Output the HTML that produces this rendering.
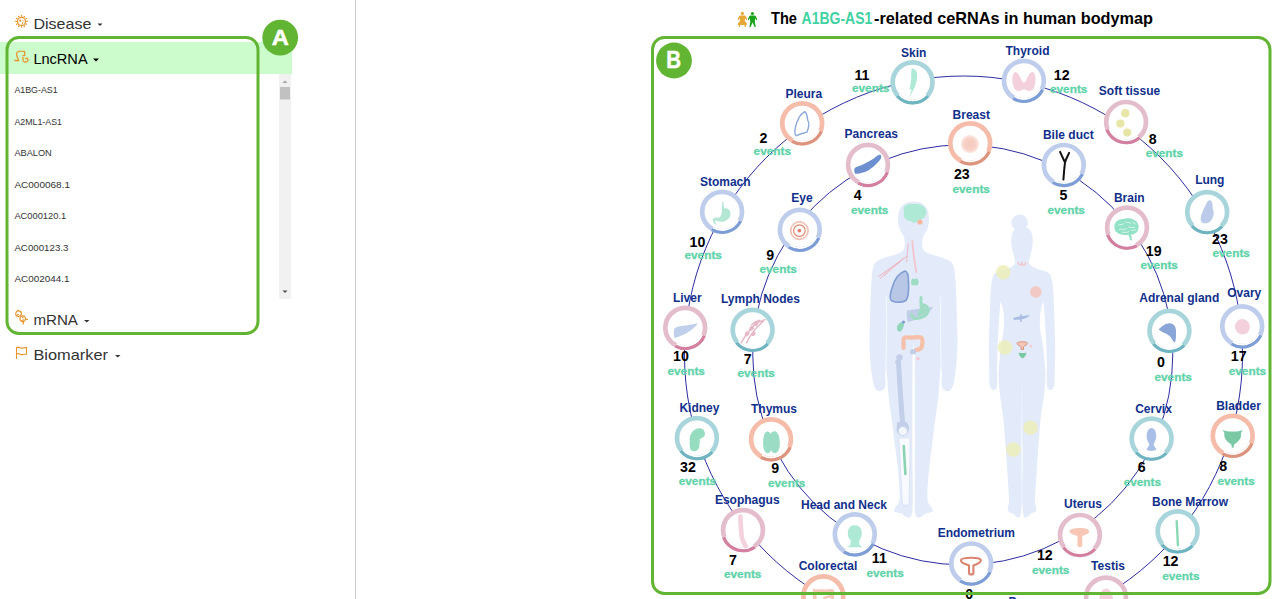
<!DOCTYPE html>
<html><head><meta charset="utf-8"><style>
html,body{margin:0;padding:0;background:#fff;}
body{width:1285px;height:599px;overflow:hidden;position:relative;font-family:"Liberation Sans",sans-serif;}
svg{position:absolute;left:0;top:0;}
.lb{font:bold 12px "Liberation Sans",sans-serif;fill:#10308c;}
.nm{font:bold 14.2px "Liberation Sans",sans-serif;fill:#000;}
.ev{font:bold 11.8px "Liberation Sans",sans-serif;fill:#5fd3a9;stroke:#5fd3a9;stroke-width:0.3;}
.menu{font:15px "Liberation Sans",sans-serif;fill:#333;}
.it{font:9.5px "Liberation Sans",sans-serif;fill:#333;}
</style></head><body>
<svg width="1285" height="599" viewBox="0 0 1285 599">
<defs><radialGradient id="bgrad"><stop offset="0" stop-color="#f6c9bd"/><stop offset="0.6" stop-color="#f7d0c5"/><stop offset="1" stop-color="#fbe6e0"/></radialGradient></defs>

<rect x="0" y="42" width="292" height="32" fill="#ccfbcc"/>
<rect x="279" y="74" width="12" height="225" fill="#f1f1f1"/>
<rect x="280" y="87" width="10" height="12.5" fill="#c1c1c1"/>
<path d="M282.5,83 L285,80.5 L287.5,83Z" fill="#a3a3a3"/>
<path d="M282.5,290.5 L285,293 L287.5,290.5Z" fill="#505050"/>
<text x="33.4" y="28.8" class="menu" textLength="58" lengthAdjust="spacingAndGlyphs">Disease</text>
<path d="M97.5,23.5 L102.5,23.5 L100,26Z" fill="#333"/>
<text x="33.4" y="64" class="menu" style="fill:#000" textLength="54.2" lengthAdjust="spacingAndGlyphs">LncRNA</text>
<path d="M93,58.5 L99,58.5 L96,61.5Z" fill="#000"/>
<text x="33.4" y="325" class="menu" textLength="44.5" lengthAdjust="spacingAndGlyphs">mRNA</text>
<path d="M84,320 L89.5,320 L86.75,322.5Z" fill="#333"/>
<text x="33.4" y="359.7" class="menu" textLength="74.6" lengthAdjust="spacingAndGlyphs">Biomarker</text>
<path d="M115,355 L120.5,355 L117.75,357.5Z" fill="#333"/>
<g fill="none" stroke="#e8942a" stroke-width="1.2"><circle cx="21.5" cy="21.4" r="4"/><path d="M26.10,21.40 L27.80,21.40 M25.48,23.70 L26.96,24.55 M23.80,25.38 L24.65,26.86 M21.50,26.00 L21.50,27.70 M19.20,25.38 L18.35,26.86 M17.52,23.70 L16.04,24.55 M16.90,21.40 L15.20,21.40 M17.52,19.10 L16.04,18.25 M19.20,17.42 L18.35,15.94 M21.50,16.80 L21.50,15.10 M23.80,17.42 L24.65,15.94 M25.48,19.10 L26.96,18.25"/></g><circle cx="20.3" cy="20.7" r="1.1" fill="#e8942a"/><circle cx="22.9" cy="20.9" r="0.6" fill="#e8942a"/><circle cx="22.6" cy="23.1" r="0.8" fill="#e8942a"/>
<path d="M14.4,60.5 L18.6,60.5 C18.4,58.5 16.6,57 16.6,54.5 C16.4,52.5 17.5,51.4 19.5,51.4 L24.4,51.4 C24.9,53 24.9,55 24.6,56.2 M22.4,55.6 L24.4,55.6 M23.2,57 C22.7,59 22.6,61.5 24.8,62 C27,62.3 28.4,60.8 28,59.2 C27.6,57.8 25.8,57.8 25.6,59.4" fill="none" stroke="#e8942a" stroke-width="1.3"/><path d="M17.5,52.5 L18,53.5 M20,51.5 L20.3,52.6 M22,51.5 L22.2,52.6" stroke="#ccfbcc" stroke-width="0.8"/>
<g fill="none" stroke="#e8942a" stroke-width="1.2"><path d="M16,313 C16,311 18,310.5 19.5,311 C21.5,311.5 22,313.5 21,315 C20,316.5 17.5,317 16.2,315.5 C15.6,314.8 15.6,313.8 16,313Z"/><path d="M20.5,317 C21.5,315.5 24,315.5 25,317 C26,318.5 25.5,321 23.5,321.5 C21.5,322 20,320.5 20,319 C20,318.2 20.2,317.5 20.5,317Z"/><path d="M23.5,321.5 L23.2,324.5 M25.3,319.5 L28,319.3 M17.5,311 L18.5,309.8 M21.5,319.8 C22.3,320.6 23.5,320.6 24,319.6"/></g><circle cx="20.4" cy="311.6" r="0.9" fill="#e8942a"/><circle cx="18" cy="314.6" r="0.8" fill="#e8942a"/><circle cx="22.8" cy="317.6" r="0.8" fill="#e8942a"/>
<path d="M16.5,359 L16.5,347 M16.5,347.5 C19,346 21,349 23,348 L26.5,347.5 L26.5,354 L23,354.5 C21,355.5 19,352.5 16.5,354" fill="none" stroke="#e8942a" stroke-width="1.1"/>
<text x="14.4" y="93.0" class="it" textLength="43.3" lengthAdjust="spacingAndGlyphs">A1BG-AS1</text>
<text x="14.4" y="124.5" class="it" textLength="47.6" lengthAdjust="spacingAndGlyphs">A2ML1-AS1</text>
<text x="14.4" y="156.0" class="it" textLength="37.3" lengthAdjust="spacingAndGlyphs">ABALON</text>
<text x="14.4" y="187.5" class="it" textLength="55.6" lengthAdjust="spacingAndGlyphs">AC000068.1</text>
<text x="14.4" y="219.0" class="it" textLength="51.8" lengthAdjust="spacingAndGlyphs">AC000120.1</text>
<text x="14.4" y="250.5" class="it" textLength="54.0" lengthAdjust="spacingAndGlyphs">AC000123.3</text>
<text x="14.4" y="282.0" class="it" textLength="55.1" lengthAdjust="spacingAndGlyphs">AC002044.1</text>
<rect x="355" y="0" width="1" height="599" fill="#c8c8c8"/>
<g><circle cx="742.4" cy="13.4" r="1.6" fill="#e8a838"/><path d="M740,15.6 L744.8,15.6 C746,16 746.6,17.5 747.2,19.8 L746.3,20 L745.2,18.3 L744.6,20.8 C746,22 747,23.5 747,24.8 L745.8,25 L745.8,27 L744.6,27 L744.4,25 L740.2,25 L740,27 L738.8,27 L738.8,25 L737.8,24.8 C737.8,23.3 738.8,22 740.2,20.8 L739.5,18.3 L738.4,20 L737.6,19.8 C738.2,17.5 738.8,16 740,15.6Z" fill="#e8a838"/><circle cx="752.4" cy="13.5" r="1.6" fill="#1aa31a"/><path d="M750.2,15.6 L754.8,15.6 C756,16 756.6,18 757.2,19.8 L756.3,20.2 L755.2,18.2 L754.8,22 L755.8,27 L754.6,27 L752.6,22.5 L750.6,27 L749.4,27 L750.3,22 L749.8,18.2 L748.6,20.3 L747.8,19.8 C748.5,18 749.2,16 750.2,15.6Z" fill="#1aa31a"/></g>
<text x="771" y="23.7" style="font:bold 16.4px 'Liberation Sans',sans-serif;fill:#000" textLength="26" lengthAdjust="spacingAndGlyphs">The</text>
<text x="801.6" y="23.7" style="font:bold 16.4px 'Liberation Sans',sans-serif;fill:#000;fill:#3fd2a2" textLength="70.7" lengthAdjust="spacingAndGlyphs">A1BG-AS1</text>
<text x="874" y="23.7" style="font:bold 16.4px 'Liberation Sans',sans-serif;fill:#000" textLength="279" lengthAdjust="spacingAndGlyphs">-related ceRNAs in human bodymap</text>
<g>
<path d="M913.5,201.5 C912.1,201.8 907.3,202.1 905.0,203.5 C902.7,204.9 900.7,207.2 899.5,210.0 C898.3,212.8 897.9,216.7 898.0,220.0 C898.1,223.3 899.0,227.2 900.0,230.0 C901.0,232.8 903.3,233.8 904.0,237.0 C904.7,240.2 905.2,246.2 904.0,249.0 C902.8,251.8 900.3,252.5 897.0,254.0 C893.7,255.5 887.5,256.7 884.0,258.0 C880.5,259.3 877.9,260.0 876.0,262.0 C874.1,264.0 873.3,265.3 872.5,270.0 C871.7,274.7 871.4,281.7 871.0,290.0 C870.6,298.3 870.2,310.8 870.0,320.0 C869.8,329.2 869.3,337.0 869.5,345.0 C869.7,353.0 870.3,361.5 871.0,368.0 C871.7,374.5 872.6,380.3 873.5,384.0 C874.4,387.7 875.2,388.8 876.5,390.0 C877.8,391.2 879.6,391.5 881.0,391.0 C882.4,390.5 884.2,389.7 885.0,387.0 C885.8,384.3 885.2,377.8 885.5,375.0 C885.8,372.2 885.9,365.8 886.5,370.0 C887.1,374.2 888.0,390.8 889.0,400.0 C890.0,409.2 891.6,418.0 892.5,425.0 C893.4,432.0 893.7,435.3 894.5,442.0 C895.3,448.7 896.7,457.0 897.5,465.0 C898.3,473.0 899.2,483.8 899.5,490.0 C899.8,496.2 899.8,499.0 899.0,502.0 C898.2,505.0 895.8,506.4 895.0,508.0 C894.2,509.6 893.7,510.7 894.5,511.5 C895.3,512.3 897.1,512.8 900.0,513.0 C902.9,513.2 909.9,523.5 912.0,513.0 C914.1,502.5 912.4,476.2 912.5,450.0 C912.6,423.8 912.5,371.7 912.8,356.0 C913.1,340.3 913.9,340.3 914.2,356.0 C914.5,371.7 914.4,423.8 914.5,450.0 C914.6,476.2 912.9,502.5 915.0,513.0 C917.1,523.5 924.1,513.2 927.0,513.0 C929.9,512.8 931.7,512.3 932.5,511.5 C933.3,510.7 932.8,509.6 932.0,508.0 C931.2,506.4 928.8,505.0 928.0,502.0 C927.2,499.0 927.2,496.2 927.5,490.0 C927.8,483.8 928.7,473.0 929.5,465.0 C930.3,457.0 931.7,448.7 932.5,442.0 C933.3,435.3 933.6,432.0 934.5,425.0 C935.4,418.0 937.0,409.2 938.0,400.0 C939.0,390.8 939.9,374.2 940.5,370.0 C941.1,365.8 941.2,372.2 941.5,375.0 C941.8,377.8 941.2,384.3 942.0,387.0 C942.8,389.7 944.6,390.5 946.0,391.0 C947.4,391.5 949.2,391.2 950.5,390.0 C951.8,388.8 952.6,387.7 953.5,384.0 C954.4,380.3 955.3,374.5 956.0,368.0 C956.7,361.5 957.3,353.0 957.5,345.0 C957.7,337.0 957.2,329.2 957.0,320.0 C956.8,310.8 956.4,298.3 956.0,290.0 C955.6,281.7 955.3,274.7 954.5,270.0 C953.7,265.3 952.9,264.0 951.0,262.0 C949.1,260.0 946.5,259.3 943.0,258.0 C939.5,256.7 933.3,255.5 930.0,254.0 C926.7,252.5 924.2,251.8 923.0,249.0 C921.8,246.2 922.3,240.2 923.0,237.0 C923.7,233.8 926.0,232.8 927.0,230.0 C928.0,227.2 928.9,223.3 929.0,220.0 C929.1,216.7 928.7,212.8 927.5,210.0 C926.3,207.2 924.3,204.9 922.0,203.5 C919.7,202.1 914.9,201.8 913.5,201.5 C912.1,201.2 914.9,201.2 913.5,201.5Z" fill="#e3ebfb"/><circle cx="1019.6" cy="222.8" r="8.2" fill="#e3ebfb"/><path d="M1022.0,227.0 C1020.9,227.2 1017.2,227.2 1015.5,228.5 C1013.8,229.8 1012.5,232.4 1011.8,235.0 C1011.1,237.6 1011.2,241.3 1011.3,244.0 C1011.4,246.7 1012.0,248.8 1012.5,251.0 C1013.0,253.2 1013.9,254.8 1014.3,257.0 C1014.6,259.2 1015.6,262.1 1014.6,264.0 C1013.6,265.9 1010.8,267.2 1008.0,268.5 C1005.2,269.8 1000.5,270.2 998.0,271.5 C995.5,272.8 994.2,273.4 993.0,276.5 C991.8,279.6 991.3,283.6 990.8,290.0 C990.3,296.4 990.1,305.8 989.8,315.0 C989.5,324.2 988.9,335.8 988.8,345.0 C988.7,354.2 989.1,363.5 989.2,370.0 C989.3,376.5 989.1,380.8 989.6,384.0 C990.1,387.2 990.9,388.7 992.0,389.5 C993.1,390.3 995.1,390.2 996.0,389.0 C996.9,387.8 997.3,384.8 997.6,382.0 C997.9,379.2 997.4,369.8 997.8,372.0 C998.2,374.2 999.0,387.0 1000.0,395.0 C1001.0,403.0 1002.6,411.7 1003.5,420.0 C1004.4,428.3 1004.8,435.8 1005.5,445.0 C1006.2,454.2 1006.9,465.8 1007.5,475.0 C1008.1,484.2 1008.9,494.7 1009.0,500.0 C1009.1,505.3 1008.2,505.2 1008.0,507.0 C1007.8,508.8 1007.3,510.0 1008.0,511.0 C1008.7,512.0 1009.8,512.7 1012.0,513.0 C1014.2,513.3 1019.4,523.5 1021.0,513.0 C1022.6,502.5 1021.3,473.5 1021.5,450.0 C1021.7,426.5 1021.9,385.0 1022.0,372.0 C1022.1,359.0 1021.9,359.0 1022.0,372.0 C1022.1,385.0 1022.3,426.5 1022.5,450.0 C1022.7,473.5 1021.4,502.5 1023.0,513.0 C1024.6,523.5 1029.8,513.3 1032.0,513.0 C1034.2,512.7 1035.3,512.0 1036.0,511.0 C1036.7,510.0 1036.2,508.8 1036.0,507.0 C1035.8,505.2 1034.9,505.3 1035.0,500.0 C1035.1,494.7 1035.9,484.2 1036.5,475.0 C1037.1,465.8 1037.8,454.2 1038.5,445.0 C1039.2,435.8 1039.6,428.3 1040.5,420.0 C1041.4,411.7 1043.0,403.0 1044.0,395.0 C1045.0,387.0 1045.8,374.2 1046.2,372.0 C1046.6,369.8 1046.1,379.2 1046.4,382.0 C1046.7,384.8 1047.1,387.8 1048.0,389.0 C1048.9,390.2 1050.9,390.3 1052.0,389.5 C1053.1,388.7 1053.9,387.2 1054.4,384.0 C1054.9,380.8 1054.7,376.5 1054.8,370.0 C1054.9,363.5 1055.3,354.2 1055.2,345.0 C1055.1,335.8 1054.5,324.2 1054.2,315.0 C1053.9,305.8 1053.7,296.4 1053.2,290.0 C1052.7,283.6 1052.2,279.6 1051.0,276.5 C1049.8,273.4 1048.5,272.8 1046.0,271.5 C1043.5,270.2 1038.8,269.8 1036.0,268.5 C1033.2,267.2 1030.5,265.9 1029.4,264.0 C1028.4,262.1 1029.4,259.2 1029.7,257.0 C1030.0,254.8 1031.0,253.2 1031.5,251.0 C1032.0,248.8 1032.6,246.7 1032.7,244.0 C1032.8,241.3 1032.9,237.6 1032.2,235.0 C1031.5,232.4 1030.2,229.8 1028.5,228.5 C1026.8,227.2 1023.1,227.2 1022.0,227.0 C1020.9,226.8 1023.1,226.8 1022.0,227.0Z" fill="#e3ebfb"/><path d="M886.2,296 C886.8,320 886.5,350 885.6,378" stroke="#fff" stroke-width="0.9" opacity="0.7" fill="none"/><path d="M940.8,296 C940.2,320 940.5,350 941.4,378" stroke="#fff" stroke-width="0.9" opacity="0.7" fill="none"/><path d="M1000.5,301 C1005.5,313 1005,328 1001.5,342 C999.5,357 998.6,372 997.6,387 C996.8,372 997,357 997.8,342 C998.5,327 999.5,313 1000.5,301Z" fill="#fff"/><path d="M1043.5,301 C1038.5,313 1039,328 1042.5,342 C1044.5,357 1045.4,372 1046.4,387 C1047.2,372 1047,357 1046.2,342 C1045.5,327 1044.5,313 1043.5,301Z" fill="#fff"/><path d="M904,212 C902,206 907,203.5 913,204 C919,203.5 925,205 926,210 C927.5,215 924,219 919,220 C917,223 913,224 911,221 C906,221 902.5,217 904,212Z" fill="#aee9d5"/><circle cx="920" cy="222" r="2.6" fill="#f4b79b"/><path d="M912.3,241 C913,250 914.5,262 916.3,272" stroke="#f3c4cc" stroke-width="1.8" fill="none" stroke-linecap="round"/><path d="M908.3,243.5 C907.5,250 907,256 906.7,262 M907,256 C900,262 890,268 878,277 M904,258 C896,264 887,270 880,279 M900,262 C895,266 889,271 884,276" stroke="#efb6c2" stroke-width="1" fill="none"/><path d="M905,271 C908,271.5 908.5,276 908.5,282 C909,290 908.5,297 906,300.5 C902,302.5 896,302.5 892,301 C889,299.5 890,294 892,288 C894,281 898,273 905,271Z" fill="#b8c7e6" stroke="#7f9dd2" stroke-width="1.6"/><ellipse cx="913.3" cy="282" rx="2.2" ry="3.6" fill="#9fdcc4"/><ellipse cx="916.3" cy="282" rx="2.2" ry="3.6" fill="#9fdcc4"/><path d="M907,310.5 C915,309 925,307.5 933,307 C931,311 926,315 920,318 C915,320 911,321.5 908,322 C906.5,318 906.5,314 907,310.5Z" fill="#bccbe6" opacity="0.9"/><path d="M921,297.5 L921,305 C925,304 928.5,307 928,311 C927.5,315 923,318 917,318.5 C914,318.8 912,317 911.5,314.5" stroke="#9fdcc4" stroke-width="3" fill="none" stroke-linecap="round"/><path d="M921,305 C924,305.5 926.5,308 926,311.5 C925,314.5 921,316 917,316" fill="#9fdcc4"/><path d="M902.5,322 C905,323 904,328 901,331 C898.5,333 896.5,330 897,327 C897.5,324.5 900,322 902.5,322Z" fill="#8fd6bb"/><circle cx="903.5" cy="322" r="1.6" fill="#7f9dd2"/><path d="M903.5,348 L903.5,340 C903.5,337 906,337 909,337.5 C913,338 917,336.5 921,337.5 C923,338.5 922.5,342 922,346 C921.5,348.5 919,349.5 916,350" stroke="#f5bfaa" stroke-width="4.2" fill="none" stroke-linecap="round"/><circle cx="913" cy="352" r="3" fill="#c2cde6"/><circle cx="918" cy="358.8" r="1.8" fill="#f5c8d2"/><path d="M898.5,362 C899.5,380 901,405 903,427" stroke="#c3cfe8" stroke-width="5" fill="none" stroke-linecap="round"/><circle cx="899.5" cy="357.5" r="3.2" fill="#c3cfe8"/><circle cx="898" cy="362" r="2.8" fill="#c3cfe8"/><path d="M897,423 C899,421 906,421 908,424 C910,428 909,433 905,435 C901,436 897,434 896.5,430Z" fill="#c3cfe8"/><circle cx="903" cy="431" r="4.6" fill="#f2f5fc" stroke="#c3cfe8" stroke-width="0.8"/><path d="M898.8,438 C900,455 901,480 902.5,505 L909,505 C909.5,480 910,455 910,438 Z" fill="#f8faff" stroke="#d0daf0" stroke-width="0.6"/><path d="M903.8,446 C904.3,455 904.8,465 905.4,474" stroke="#8bd3b0" stroke-width="2.6" fill="none" stroke-linecap="round"/><path d="M913.8,354 L913.8,512" stroke="#ffffff" stroke-width="2" fill="none"/><path d="M1018,262 C1019,266 1021,266 1022,263 C1023,266 1025,266 1026,262" stroke="#f3c4cc" stroke-width="1.5" fill="none"/><circle cx="1003.3" cy="272.4" r="7.3" fill="#eceeb4" opacity="0.8"/><circle cx="1035.8" cy="291.9" r="5.8" fill="#f3c9c5"/><path d="M1013,318 C1018,316 1025,316 1030,315 C1027,319 1020,320 1014,320Z" fill="#a9bde4"/><path d="M1021,314 L1021,322" stroke="#a9bde4" stroke-width="1.5"/><circle cx="1005" cy="347.5" r="7.3" fill="#eceeb4" opacity="0.8"/><path d="M1017,343.3 C1017,341.3 1027.5,341.3 1027.5,343.3 C1027.5,345 1024.3,345.8 1023.4,347 L1023.4,349.5 L1021.2,349.5 L1021.2,347 C1020.3,345.8 1017,345 1017,343.3Z" fill="#f6c8b8" stroke="#d98a73" stroke-width="0.9"/><circle cx="1031" cy="346" r="1.5" fill="#f5c8d2"/><path d="M1018.6,352.5 C1020,353.2 1025,353.2 1026.4,352.5 C1026.4,355 1024.5,357.5 1022.5,358.5 C1020.5,357.5 1018.6,355 1018.6,352.5Z" fill="#7ac8a3"/><circle cx="1030.5" cy="427.7" r="7.3" fill="#eceeb4" opacity="0.8"/><circle cx="1013.4" cy="449.6" r="7.3" fill="#eceeb4" opacity="0.8"/>
<circle cx="963.5" cy="355" r="279" fill="none" stroke="#2c2ca0" stroke-width="1"/>
<circle cx="962.77" cy="354.85" r="210" fill="none" stroke="#2c2ca0" stroke-width="1"/>
<circle cx="912.6" cy="82.2" r="19.9" fill="#fff" stroke="#a8d5db" stroke-width="4.7"/>
<path d="M926.27,94.51 A18.4,18.4 0 0 1 898.93,94.51" fill="none" stroke="#fff" stroke-width="1.9"/>
<path d="M927.98,96.05 A20.7,20.7 0 0 1 897.22,96.05" fill="none" stroke="#6fb4c1" stroke-width="3.1"/>
<g transform="translate(912.6,82.2)"><path d="M-0.9,-14.2 C2,-13 4.6,-11.5 4.6,-8 C4.6,-3 3.8,0 2.8,3 C1.5,7 -1,11 -3.2,15.2 C-2.5,12 -1.5,9 -0.9,7.3 L-3.2,6.9 C-2,3 -1.4,-1 -1.4,-4.6 C-1.4,-9 -1.2,-12 -0.9,-14.2Z" fill="#aee9d6"/></g>
<circle cx="1023.9" cy="80.7" r="19.9" fill="#fff" stroke="#bfcdec" stroke-width="4.7"/>
<path d="M1040.44,88.77 A18.4,18.4 0 0 1 1014.42,96.47" fill="none" stroke="#fff" stroke-width="1.9"/>
<path d="M1042.51,89.77 A20.7,20.7 0 0 1 1013.24,98.44" fill="none" stroke="#7d9dd6" stroke-width="3.1"/>
<g transform="translate(1023.9,80.7)"><path d="M-9,-8.6 C-6,-9 -4,-4 -2,0 C-1,2.5 1,2.5 2,0 C4,-4 6,-9 9,-8.6 C12,-7 12,0 11,4 C10,9 7,11 4,10 C2,9.5 1,8.5 0,8.5 C-1,8.5 -2,9.5 -4,10 C-7,11 -10,9 -11,4 C-12,0 -12,-7 -9,-8.6Z" fill="#f3d0dc"/></g>
<circle cx="1126.1" cy="121.9" r="19.9" fill="#fff" stroke="#e4bdcc" stroke-width="4.7"/>
<path d="M1137.93,136.00 A18.4,18.4 0 0 1 1109.04,128.79" fill="none" stroke="#fff" stroke-width="1.9"/>
<path d="M1139.41,137.76 A20.7,20.7 0 0 1 1106.91,129.65" fill="none" stroke="#d27fa0" stroke-width="3.1"/>
<g transform="translate(1126.1,121.9)"><circle cx="-0.8" cy="-8.7" r="4.1" fill="#e7e6a6"/><circle cx="-5.7" cy="1.7" r="4.1" fill="#e7e6a6"/><circle cx="1.1" cy="10.6" r="4.1" fill="#e7e6a6"/></g>
<circle cx="1207.2" cy="212" r="19.9" fill="#fff" stroke="#a8d5db" stroke-width="4.7"/>
<path d="M1220.21,225.01 A18.4,18.4 0 0 1 1193.74,224.55" fill="none" stroke="#fff" stroke-width="1.9"/>
<path d="M1221.84,226.64 A20.7,20.7 0 0 1 1192.06,226.12" fill="none" stroke="#6fb4c1" stroke-width="3.1"/>
<g transform="translate(1207.2,212)"><path d="M2.5,-11.7 C5.5,-11.5 5.5,-7 5.5,-3 C6.5,-1 7,2 6,4 C5,8 3,10.5 -1,11.3 C-5,11.8 -7,10 -6.5,6 C-5.5,0 -3,-4 -1,-8 C0,-10.5 1,-11.7 2.5,-11.7Z" fill="#bccbea"/></g>
<circle cx="1242.2" cy="326.3" r="19.9" fill="#fff" stroke="#bfcdec" stroke-width="4.7"/>
<path d="M1258.74,334.37 A18.4,18.4 0 0 1 1232.72,342.07" fill="none" stroke="#fff" stroke-width="1.9"/>
<path d="M1260.81,335.37 A20.7,20.7 0 0 1 1231.54,344.04" fill="none" stroke="#7d9dd6" stroke-width="3.1"/>
<g transform="translate(1242.2,326.3)"><ellipse cx="0" cy="0.5" rx="7.4" ry="7.8" transform="rotate(-20)" fill="#f4d0dc"/></g>
<circle cx="1232.7" cy="435.7" r="19.9" fill="#fff" stroke="#f5bca9" stroke-width="4.7"/>
<path d="M1249.76,442.59 A18.4,18.4 0 0 1 1223.78,451.79" fill="none" stroke="#fff" stroke-width="1.9"/>
<path d="M1251.89,443.45 A20.7,20.7 0 0 1 1222.66,453.80" fill="none" stroke="#dd947f" stroke-width="3.1"/>
<g transform="translate(1232.7,435.7)"><path d="M-10,-5.7 C-6,-4.2 -3,-4 0,-4.2 C3,-4 6,-4.2 10,-5.7 C9,-4 8,-3 8.4,-1 C8.6,3 5,6.5 1.5,8.5 L0.8,12 L-0.8,12 L-1.5,8.5 C-5,6.5 -8.6,3 -8.4,-1 C-8,-3 -9,-4 -10,-5.7Z" fill="#7bc8a5"/></g>
<circle cx="1177.6" cy="531.3" r="19.9" fill="#fff" stroke="#a8d5db" stroke-width="4.7"/>
<path d="M1190.61,544.31 A18.4,18.4 0 0 1 1163.71,543.37" fill="none" stroke="#fff" stroke-width="1.9"/>
<path d="M1192.24,545.94 A20.7,20.7 0 0 1 1161.98,544.88" fill="none" stroke="#6fb4c1" stroke-width="3.1"/>
<g transform="translate(1177.6,531.3)"><path d="M-0.9,-10 C-0.5,-2 0,6 0.3,14" stroke="#8ad9b5" stroke-width="2.4" stroke-linecap="round" fill="none"/></g>
<circle cx="1106" cy="597.5" r="19.9" fill="#fff" stroke="#e4bdcc" stroke-width="4.7"/>
<path d="M1119.01,610.51 A18.4,18.4 0 0 1 1091.90,609.33" fill="none" stroke="#fff" stroke-width="1.9"/>
<path d="M1120.64,612.14 A20.7,20.7 0 0 1 1090.14,610.81" fill="none" stroke="#d27fa0" stroke-width="3.1"/>
<g transform="translate(1106,597.5)"><path d="M-7,8 C-7,-3 -4.5,-9.1 0,-9.1 C4.5,-9.1 7.4,-3 7.4,8Z" fill="#f4d0de"/></g>
<circle cx="823.3" cy="596.3" r="19.9" fill="#fff" stroke="#f5bca9" stroke-width="4.7"/>
<path d="M839.98,604.08 A18.4,18.4 0 0 1 814.10,612.23" fill="none" stroke="#fff" stroke-width="1.9"/>
<path d="M842.06,605.05 A20.7,20.7 0 0 1 812.95,614.23" fill="none" stroke="#dd947f" stroke-width="3.1"/>
<g transform="translate(823.3,596.3)"><path d="M-8.6,8 L-8.6,-5.3 C-6,-4.5 -3,-5.8 0,-5.2 C3,-4.6 6,-5.8 9,-5.3 L9,8" fill="none" stroke="#f7c9bb" stroke-width="3.6"/><path d="M0,2 C3,1 6,0 9,-0.5" stroke="#f7c9bb" stroke-width="2.5" fill="none"/></g>
<circle cx="743" cy="530" r="19.9" fill="#fff" stroke="#e4bdcc" stroke-width="4.7"/>
<path d="M753.29,545.25 A18.4,18.4 0 0 1 725.82,536.59" fill="none" stroke="#fff" stroke-width="1.9"/>
<path d="M754.58,547.16 A20.7,20.7 0 0 1 723.67,537.42" fill="none" stroke="#d27fa0" stroke-width="3.1"/>
<g transform="translate(743,530)"><path d="M-2.6,-13.5 C-2.2,-6 -2.2,2 -1,8 C0,12 1.5,14 2.8,16" stroke="#f3d1dd" stroke-width="4.6" stroke-linecap="round" fill="none"/></g>
<circle cx="696.9" cy="438" r="19.9" fill="#fff" stroke="#a8d5db" stroke-width="4.7"/>
<path d="M710.36,450.55 A18.4,18.4 0 0 1 682.60,449.58" fill="none" stroke="#fff" stroke-width="1.9"/>
<path d="M712.04,452.12 A20.7,20.7 0 0 1 680.81,451.03" fill="none" stroke="#6fb4c1" stroke-width="3.1"/>
<g transform="translate(696.9,438)"><path d="M2.5,-9.8 C6,-10 8.2,-7 8,-4 C7.8,-1 5,0 3,1 C2.5,4 3,7 2,10 C0.5,13.5 -3,14 -5.5,12.5 C-7.5,11 -7.3,5 -7.2,1 C-7,-4 -4,-7.5 -1,-9 C0,-9.6 1.2,-9.8 2.5,-9.8Z" fill="#96dcbf"/></g>
<circle cx="685.2" cy="327.8" r="19.9" fill="#fff" stroke="#e4bdcc" stroke-width="4.7"/>
<path d="M702.14,334.99 A18.4,18.4 0 0 1 676.56,344.05" fill="none" stroke="#fff" stroke-width="1.9"/>
<path d="M704.25,335.89 A20.7,20.7 0 0 1 675.48,346.08" fill="none" stroke="#d27fa0" stroke-width="3.1"/>
<g transform="translate(685.2,327.8)"><path d="M12.7,-4.4 C8,-3.6 2,-2.8 -4,-1.8 C-8,-1.2 -10.5,-0.5 -11,1.5 C-11.5,4 -11.2,7.5 -11,10.3 C-6,9.2 -1,6.8 3,4.2 C7,1.6 10,-1 12.7,-4.4Z" fill="#c0cfec"/></g>
<circle cx="722.1" cy="211.7" r="19.9" fill="#fff" stroke="#bfcdec" stroke-width="4.7"/>
<path d="M738.49,220.05 A18.4,18.4 0 0 1 712.90,227.63" fill="none" stroke="#fff" stroke-width="1.9"/>
<path d="M740.54,221.10 A20.7,20.7 0 0 1 711.75,229.63" fill="none" stroke="#7d9dd6" stroke-width="3.1"/>
<g transform="translate(722.1,211.7)"><path d="M0,-9.7 L1.4,-9.7 C1.4,-7 1.6,-5 2.5,-3.5 C6,-4 8.5,-1.5 8.5,2 C8.5,6 5,9.5 0,10 C-3,10.3 -5,9 -6.5,8.5 C-7.5,9 -6.5,11 -5.5,12.8 C-7.5,13 -9.3,11 -9.3,8.5 C-9.2,6.5 -7.5,5.5 -5.5,6 C-3,6.5 -1,5 -0.5,2 C0,-1 0,-5 0,-9.7Z" fill="#b5e8d4"/></g>
<circle cx="802.2" cy="123.2" r="19.9" fill="#fff" stroke="#f5bca9" stroke-width="4.7"/>
<path d="M819.14,130.39 A18.4,18.4 0 0 1 793.28,139.29" fill="none" stroke="#fff" stroke-width="1.9"/>
<path d="M821.25,131.29 A20.7,20.7 0 0 1 792.16,141.30" fill="none" stroke="#dd947f" stroke-width="3.1"/>
<g transform="translate(802.2,123.2)"><path d="M2.2,-11.4 C5,-11 5,-6 5.5,-3 C7.5,0 6,6 4.8,9 C2,10 -2,10 -5.5,12.5 C-7.5,12 -7.5,8 -7,5 C-5.5,-2 -2,-9 2.2,-11.4Z" fill="none" stroke="#8ca7da" stroke-width="1.4"/></g>
<circle cx="970.2" cy="143.2" r="19.9" fill="#fff" stroke="#f5bca9" stroke-width="4.7"/>
<path d="M987.01,150.68 A18.4,18.4 0 0 1 961.56,159.45" fill="none" stroke="#fff" stroke-width="1.9"/>
<path d="M989.11,151.62 A20.7,20.7 0 0 1 960.48,161.48" fill="none" stroke="#dd947f" stroke-width="3.1"/>
<g transform="translate(970.2,143.2)"><circle cx="-0.3" cy="0.9" r="9" fill="url(#bgrad)"/></g>
<circle cx="1063.8" cy="164.9" r="19.9" fill="#fff" stroke="#bfcdec" stroke-width="4.7"/>
<path d="M1080.19,173.25 A18.4,18.4 0 0 1 1054.05,180.50" fill="none" stroke="#fff" stroke-width="1.9"/>
<path d="M1082.24,174.30 A20.7,20.7 0 0 1 1052.83,182.45" fill="none" stroke="#7d9dd6" stroke-width="3.1"/>
<g transform="translate(1063.8,164.9)"><path d="M-3.7,-13.1 C-2,-9 0,-5 1.2,-2.5 M5.3,-12 C3.5,-8 1.8,-5 1.2,-2.5 C0.5,3 0,9 -0.4,14.7" stroke="#111" stroke-width="2" fill="none" stroke-linecap="round"/></g>
<circle cx="1127" cy="227.5" r="19.9" fill="#fff" stroke="#e4bdcc" stroke-width="4.7"/>
<path d="M1135.64,243.75 A18.4,18.4 0 0 1 1109.82,234.09" fill="none" stroke="#fff" stroke-width="1.9"/>
<path d="M1136.72,245.78 A20.7,20.7 0 0 1 1107.67,234.92" fill="none" stroke="#d27fa0" stroke-width="3.1"/>
<g transform="translate(1127,227.5)"><path d="M-12.5,0 C-13.5,-4 -10,-8.5 -4,-8.6 C-1,-9.5 5,-9.5 8,-7 C11.5,-5 12.5,-1 11,2.5 C10,5.5 7,7.2 4,7 L5.2,12.5 C4.5,13.2 3.5,13 3,12 L1.5,7.2 C-2,8 -8,7.5 -10.5,4.5 C-12,3.5 -12.5,2 -12.5,0Z" fill="#93e2c8"/><path d="M-9,-2 C-7,-4 -5,-2 -3,-4 M-8,2 C-5,1 -3,3 0,1 M-2,-6 C0,-4 2,-6 4,-4 M1,-1 C3,1 5,-1 8,0 M-5,5 C-3,4 -1,6 2,4 M5,-6 C6,-4 8,-5 9,-3 M4,3 C6,2 7,4 9,2" stroke="#fff" stroke-width="0.7" fill="none" opacity="0.85"/></g>
<circle cx="1169.4" cy="330.8" r="19.9" fill="#fff" stroke="#a8d5db" stroke-width="4.7"/>
<path d="M1182.41,343.81 A18.4,18.4 0 0 1 1155.30,342.63" fill="none" stroke="#fff" stroke-width="1.9"/>
<path d="M1184.04,345.44 A20.7,20.7 0 0 1 1153.54,344.11" fill="none" stroke="#6fb4c1" stroke-width="3.1"/>
<g transform="translate(1169.4,330.8)"><path d="M-10.6,-1.4 C-8,-4 -4,-7.5 0,-7.5 C4,-7.5 6.8,-4 6.6,0 C6.5,4 7,8 5.6,11.7 C3.5,11 2,7 0,5 C-3,2 -8,1.5 -10.6,-1.4Z" fill="#8aa5d7"/></g>
<circle cx="1151.6" cy="438.6" r="19.9" fill="#fff" stroke="#a8d5db" stroke-width="4.7"/>
<path d="M1164.61,451.61 A18.4,18.4 0 0 1 1137.93,450.91" fill="none" stroke="#fff" stroke-width="1.9"/>
<path d="M1166.24,453.24 A20.7,20.7 0 0 1 1136.22,452.45" fill="none" stroke="#6fb4c1" stroke-width="3.1"/>
<g transform="translate(1151.6,438.6)"><path d="M0,-10.7 C3,-10.7 4.7,-7 4.6,-2 C4.5,2 2.5,4 2,6 C2.5,8 4.5,9.5 4.7,11.5 C3,12.6 -3,12.6 -5,11.5 C-4.8,9.5 -2.8,8 -2.2,6 C-2.8,4 -5,2 -5,-2 C-5,-7 -3,-10.7 0,-10.7Z" fill="#a9bfe8"/></g>
<circle cx="1079.9" cy="534.9" r="19.9" fill="#fff" stroke="#e4bdcc" stroke-width="4.7"/>
<path d="M1093.14,547.68 A18.4,18.4 0 0 1 1065.40,546.23" fill="none" stroke="#fff" stroke-width="1.9"/>
<path d="M1094.79,549.28 A20.7,20.7 0 0 1 1063.59,547.64" fill="none" stroke="#d27fa0" stroke-width="3.1"/>
<g transform="translate(1079.9,534.9)"><path d="M-10.4,-3.5 C-10.4,-6 -5,-7 0,-7 C5,-7 9.3,-6 9.3,-3.5 C9.3,-1 5,0 2.4,1 L2.4,10.5 C2.4,12.6 -2.4,12.6 -2.4,10.5 L-2.4,1 C-5,0 -10.4,-1 -10.4,-3.5Z" fill="#f7c6b5"/></g>
<circle cx="971.2" cy="563.4" r="19.9" fill="#fff" stroke="#bfcdec" stroke-width="4.7"/>
<path d="M987.88,571.18 A18.4,18.4 0 0 1 961.45,579.00" fill="none" stroke="#fff" stroke-width="1.9"/>
<path d="M989.96,572.15 A20.7,20.7 0 0 1 960.23,580.95" fill="none" stroke="#7d9dd6" stroke-width="3.1"/>
<g transform="translate(971.2,563.4)"><path d="M-10.3,-3 C-10.3,-5.5 -5,-5.6 0,-5.6 C5,-5.6 9.6,-5.5 9.6,-3 C9.6,-0.5 5,1 2.2,2 L2.2,9.5 C2.2,11.5 -2.2,11.5 -2.2,9.5 L-2.2,2 C-5,1 -10.3,-0.5 -10.3,-3Z" fill="none" stroke="#d9846f" stroke-width="2.1"/></g>
<circle cx="854.8" cy="534.3" r="19.9" fill="#fff" stroke="#bfcdec" stroke-width="4.7"/>
<path d="M871.19,542.65 A18.4,18.4 0 0 1 845.05,549.90" fill="none" stroke="#fff" stroke-width="1.9"/>
<path d="M873.24,543.70 A20.7,20.7 0 0 1 843.83,551.85" fill="none" stroke="#7d9dd6" stroke-width="3.1"/>
<g transform="translate(854.8,534.3)"><path d="M0,-9.1 C4.5,-9.1 7,-6 7,-1 C7,2 6,4.5 4.5,6 L4.5,10 C5.5,11 6.5,12 7.4,13 L-7.1,13 C-6,12 -5,11 -4.2,10 L-4.2,6 C-6,4.5 -7,2 -7,-1 C-7,-6 -4.5,-9.1 0,-9.1Z" fill="#ade9d5"/></g>
<circle cx="771" cy="439.2" r="19.9" fill="#fff" stroke="#f5bca9" stroke-width="4.7"/>
<path d="M787.94,446.39 A18.4,18.4 0 0 1 762.08,455.29" fill="none" stroke="#fff" stroke-width="1.9"/>
<path d="M790.05,447.29 A20.7,20.7 0 0 1 760.96,457.30" fill="none" stroke="#dd947f" stroke-width="3.1"/>
<g transform="translate(771,439.2)"><path d="M-0.6,-5.5 C-1.5,-7.5 -3,-8 -4.5,-7.5 C-7.5,-6 -8.1,0 -7.8,6 C-7.5,10 -6,14.3 -3,14 C-1,13.8 -0.4,12 0.2,10.5 C0.8,12 1.5,13.8 3.5,14 C6.5,14.3 8.5,10 8.8,6 C9,0 8,-6 5,-7.5 C3,-8.5 1,-7.5 -0.6,-5.5Z" fill="#9bdcc5"/></g>
<circle cx="752.6" cy="329.8" r="19.9" fill="#fff" stroke="#a8d5db" stroke-width="4.7"/>
<path d="M766.06,342.35 A18.4,18.4 0 0 1 738.30,341.38" fill="none" stroke="#fff" stroke-width="1.9"/>
<path d="M767.74,343.92 A20.7,20.7 0 0 1 736.51,342.83" fill="none" stroke="#6fb4c1" stroke-width="3.1"/>
<g transform="translate(752.6,329.8)"><path d="M-11.4,13.2 C-8,7 -4,1 1,-4 C4,-7 8,-9 12.5,-10.2 M-6,13 C-3,7 0,2 4,-2 C7,-5 9,-7 11,-9 M-1,-5 C2,-8 5,-9 7,-9.5" stroke="#e6b9c9" stroke-width="1.5" fill="none" stroke-linecap="round"/><ellipse cx="-5.5" cy="4" rx="2" ry="2.8" transform="rotate(40 -5.5 4)" fill="#e6b9c9"/><ellipse cx="-1" cy="-1.5" rx="2" ry="2.8" transform="rotate(40 -1 -1.5)" fill="#e6b9c9"/><ellipse cx="3.5" cy="-6" rx="2" ry="2.6" transform="rotate(40 3.5 -6)" fill="#e6b9c9"/><ellipse cx="1" cy="4" rx="1.8" ry="2.5" transform="rotate(40 1 4)" fill="#e6b9c9"/></g>
<circle cx="799.8" cy="229.7" r="19.9" fill="#fff" stroke="#bfcdec" stroke-width="4.7"/>
<path d="M816.61,237.18 A18.4,18.4 0 0 1 790.05,245.30" fill="none" stroke="#fff" stroke-width="1.9"/>
<path d="M818.71,238.12 A20.7,20.7 0 0 1 788.83,247.25" fill="none" stroke="#7d9dd6" stroke-width="3.1"/>
<g transform="translate(799.8,229.7)"><circle cx="-0.4" cy="0.9" r="9.1" fill="none" stroke="#e79b85" stroke-width="0.6"/><circle cx="-0.4" cy="0.9" r="8.3" fill="none" stroke="#e79b85" stroke-width="0.6"/><circle cx="-0.4" cy="0.9" r="5.8" fill="none" stroke="#e38d75" stroke-width="1.2"/><circle cx="-0.4" cy="0.9" r="1.9" fill="#e0806a"/></g>
<circle cx="868" cy="164.8" r="19.9" fill="#fff" stroke="#e4bdcc" stroke-width="4.7"/>
<path d="M885.18,171.39 A18.4,18.4 0 0 1 859.36,181.05" fill="none" stroke="#fff" stroke-width="1.9"/>
<path d="M887.33,172.22 A20.7,20.7 0 0 1 858.28,183.08" fill="none" stroke="#d27fa0" stroke-width="3.1"/>
<g transform="translate(868,164.8)"><path d="M-13.7,5 C-13.5,2.5 -11,1.9 -8,1 C-4,-0.5 0,-3 5.4,-6 C8,-8 10,-10 12,-10 C13.5,-10 13.7,-7.5 12.5,-5.5 C10,-2.5 8,0 5.4,1.9 C2,4.5 -1,6.5 -4,7.5 C-7,8.5 -10,9.3 -12.5,9 C-13.5,8.5 -13.8,7 -13.7,5Z" fill="#6d8fd0"/></g>
<text x="913.75" y="56.70" text-anchor="middle" class="lb">Skin</text>
<text x="854.5" y="80" class="nm">11</text>
<text x="852" y="92.25" class="ev">events</text>
<text x="1027.5" y="55.20" text-anchor="middle" class="lb">Thyroid</text>
<text x="1053.75" y="80" class="nm">12</text>
<text x="1050" y="93.00" class="ev">events</text>
<text x="1129.5" y="95.20" text-anchor="middle" class="lb">Soft tissue</text>
<text x="1148.75" y="143.6" class="nm">8</text>
<text x="1145.7" y="157.20" class="ev">events</text>
<text x="1209.8" y="183.70" text-anchor="middle" class="lb">Lung</text>
<text x="1212" y="243.75" class="nm">23</text>
<text x="1212.5" y="257.00" class="ev">events</text>
<text x="1244.25" y="296.70" text-anchor="middle" class="lb">Ovary</text>
<text x="1230.75" y="361.25" class="nm">17</text>
<text x="1228.75" y="374.75" class="ev">events</text>
<text x="1238.5" y="409.95" text-anchor="middle" class="lb">Bladder</text>
<text x="1219.3" y="470.5" class="nm">8</text>
<text x="1217.4" y="485.00" class="ev">events</text>
<text x="1190" y="505.70" text-anchor="middle" class="lb">Bone Marrow</text>
<text x="1162.7" y="566.2" class="nm">12</text>
<text x="1162.2" y="579.60" class="ev">events</text>
<text x="1108" y="570.30" text-anchor="middle" class="lb">Testis</text>
<text x="828" y="570.40" text-anchor="middle" class="lb">Colorectal</text>
<text x="747.25" y="503.70" text-anchor="middle" class="lb">Esophagus</text>
<text x="729" y="564.6" class="nm">7</text>
<text x="724" y="578.00" class="ev">events</text>
<text x="699.4" y="411.95" text-anchor="middle" class="lb">Kidney</text>
<text x="680" y="472" class="nm">32</text>
<text x="678.75" y="484.75" class="ev">events</text>
<text x="687.25" y="302.45" text-anchor="middle" class="lb">Liver</text>
<text x="673" y="361.25" class="nm">10</text>
<text x="667.5" y="374.75" class="ev">events</text>
<text x="725.25" y="185.70" text-anchor="middle" class="lb">Stomach</text>
<text x="689.5" y="247.1" class="nm">10</text>
<text x="684.5" y="259.40" class="ev">events</text>
<text x="803.75" y="97.70" text-anchor="middle" class="lb">Pleura</text>
<text x="759.6" y="142.9" class="nm">2</text>
<text x="753.6" y="155.20" class="ev">events</text>
<text x="971.25" y="118.70" text-anchor="middle" class="lb">Breast</text>
<text x="953.9" y="179.4" class="nm">23</text>
<text x="952.5" y="192.50" class="ev">events</text>
<text x="1068.3" y="139.20" text-anchor="middle" class="lb">Bile duct</text>
<text x="1059.6" y="200.3" class="nm">5</text>
<text x="1047.5" y="214.00" class="ev">events</text>
<text x="1129.3" y="201.70" text-anchor="middle" class="lb">Brain</text>
<text x="1145.75" y="255.5" class="nm">19</text>
<text x="1140.5" y="269.00" class="ev">events</text>
<text x="1179.25" y="301.70" text-anchor="middle" class="lb">Adrenal gland</text>
<text x="1157" y="367" class="nm">0</text>
<text x="1154.5" y="380.50" class="ev">events</text>
<text x="1153.5" y="412.70" text-anchor="middle" class="lb">Cervix</text>
<text x="1137.7" y="471.9" class="nm">6</text>
<text x="1123.7" y="485.60" class="ev">events</text>
<text x="1083" y="508.40" text-anchor="middle" class="lb">Uterus</text>
<text x="1036.9" y="560.4" class="nm">12</text>
<text x="1032" y="574.30" class="ev">events</text>
<text x="976.3" y="536.70" text-anchor="middle" class="lb">Endometrium</text>
<text x="965.2" y="599.3" class="nm">0</text>
<text x="844" y="508.50" text-anchor="middle" class="lb">Head and Neck</text>
<text x="871.8" y="562.9" class="nm">11</text>
<text x="866.4" y="576.50" class="ev">events</text>
<text x="774" y="413.20" text-anchor="middle" class="lb">Thymus</text>
<text x="771.25" y="472.5" class="nm">9</text>
<text x="768" y="487.25" class="ev">events</text>
<text x="760.4" y="303.20" text-anchor="middle" class="lb">Lymph Nodes</text>
<text x="743.75" y="363.75" class="nm">7</text>
<text x="737.5" y="377.25" class="ev">events</text>
<text x="801.9" y="201.95" text-anchor="middle" class="lb">Eye</text>
<text x="766.25" y="259.5" class="nm">9</text>
<text x="759.5" y="273.00" class="ev">events</text>
<text x="871.3" y="138.40" text-anchor="middle" class="lb">Pancreas</text>
<text x="853.8" y="200.3" class="nm">4</text>
<text x="851" y="214.00" class="ev">events</text>
<text x="1008.6" y="605.5" class="lb">P</text>
</g>
<rect x="7" y="37.5" width="251" height="296" rx="12" fill="none" stroke="#62b532" stroke-width="3"/>
<circle cx="280.2" cy="37.6" r="17.9" fill="#62b532"/>
<text x="271.7" y="44.9" style="font:bold 22px 'Liberation Sans',sans-serif;fill:#fff;stroke:#fff;stroke-width:0.5" textLength="17.1" lengthAdjust="spacingAndGlyphs">A</text>
<rect x="652.5" y="37.5" width="617.5" height="556" rx="12" fill="none" stroke="#62b532" stroke-width="3"/>
<circle cx="674" cy="60.5" r="17.9" fill="#62b532"/>
<text x="666.2" y="67.9" style="font:bold 23px 'Liberation Sans',sans-serif;fill:#fff;stroke:#fff;stroke-width:0.5" textLength="14.8" lengthAdjust="spacingAndGlyphs">B</text>
</svg></body></html>
